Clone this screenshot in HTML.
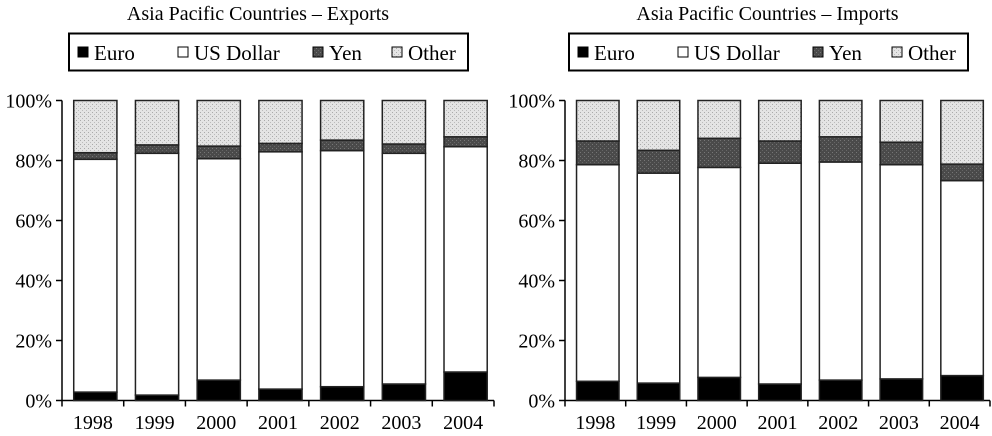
<!DOCTYPE html>
<html><head><meta charset="utf-8"><style>
body{margin:0;background:#fff;}
svg{display:block;font-family:"Liberation Serif",serif;}
</style></head><body>
<svg id="c" width="992" height="436" viewBox="0 0 992 436" xmlns="http://www.w3.org/2000/svg">
<defs>
<pattern id="pOther" width="4" height="4" patternUnits="userSpaceOnUse"><rect width="4" height="4" fill="#e4e4e4"/><rect width="1" height="1" fill="#aaa"/><rect x="2" y="2" width="1" height="1" fill="#bbb"/></pattern>
<pattern id="pYen" width="4" height="4" patternUnits="userSpaceOnUse"><rect width="4" height="4" fill="#4a4a4a"/><rect width="1" height="1" fill="#777"/><rect x="2" y="2" width="1" height="1" fill="#666"/></pattern>
</defs>
</svg>
<script>
const years = ["1998","1999","2000","2001","2002","2003","2004"];
const yTicks = [0,20,40,60,80,100];
const expEuro = [2.8,1.8,6.8,3.8,4.6,5.5,9.5];
const expUsd = [77.6,80.6,73.8,79.1,78.7,76.9,75.1];
const expYen = [2.2,2.8,4.2,2.8,3.5,3.1,3.3];
const expOther = [17.4,14.8,15.2,14.3,13.2,14.5,12.1];
const impEuro = [6.4,5.8,7.7,5.5,6.8,7.2,8.3];
const impUsd = [72.2,70.0,70.0,73.6,72.7,71.4,65.0];
const impYen = [7.9,7.6,9.7,7.4,8.4,7.5,5.5];
const impOther = [13.5,16.6,12.6,13.5,12.1,13.9,21.2];

const svg = document.getElementById('c');
const NS = 'http://www.w3.org/2000/svg';
function mk(tag, attrs, parent){const e=document.createElementNS(NS,tag);for(const k in attrs)e.setAttribute(k,attrs[k]);(parent||svg).appendChild(e);return e;}

function drawChart(key, title, x0, x1, series, legendX){
  const g = mk('g',{});
  
  
  const yTop=100.5, yBot=400.5;
  const yScale = v => yBot - (v/100)*(yBot-yTop);
  const bw = (x1-x0)/years.length;
  const xBand = i => x0 + i*bw;
  const t = mk('text',{x:(x0+x1)/2+ (key==='exports'?-20:-10), y:20,'text-anchor':'middle','font-size':20,fill:'#000'},g);
  t.textContent = title;
  
  
  // legend
  const lg = mk('g',{},g);
  
  
  mk('rect',{x:legendX,y:33.5,width:399,height:37,fill:'#fff',stroke:'#000','stroke-width':2},lg);
  const names=['Euro','US Dollar','Yen','Other'];
  const fills=['#000','#fff','url(#pYen)','url(#pOther)'];
  const offs=[9,109,244,323];
  names.forEach((n,i)=>{
    const it = mk('g',{},lg);
    
    
    mk('rect',{x:legendX+offs[i],y:47,width:10,height:10,fill:fills[i],stroke:'#000','stroke-width':1},it);
    const tt = mk('text',{x:legendX+offs[i]+16,y:60,'font-size':21,fill:'#000'},it);
    tt.textContent = n;
  });
  // axes
  const ax = mk('g',{},g);
  
  
  mk('line',{x1:x0,y1:yTop,x2:x0,y2:yBot,stroke:'#000','stroke-width':1.5},ax);
  mk('line',{x1:x0,y1:yBot,x2:x1,y2:yBot,stroke:'#000','stroke-width':1.5},ax);
  yTicks.forEach(v=>{
    const y=yScale(v);
    mk('line',{x1:x0-6,y1:y,x2:x0,y2:y,stroke:'#000','stroke-width':1.5},ax);
    const l = mk('text',{x:x0-10,y:y+7,'text-anchor':'end','font-size':20,fill:'#000'},ax);
    l.textContent = v+'%';
    
    
  });
  for(let i=0;i<=years.length;i++){
    mk('line',{x1:xBand(i),y1:yBot,x2:xBand(i),y2:yBot+6,stroke:'#000','stroke-width':1.5},ax);
  }
  years.forEach((yr,i)=>{
    const l = mk('text',{x:xBand(i)+bw/2,y:429,'text-anchor':'middle','font-size':20,fill:'#000'},ax);
    l.textContent = yr;
    
    
  });
  // bars
  const segNames=['euro','usd','yen','other'];
  years.forEach((yr,i)=>{
    const bg = mk('g',{},g);
    
    
    let cum=0;
    series.forEach((arr,s)=>{
      const v=arr[i];
      const yA=yScale(cum+v), yB=yScale(cum);
      const r = mk('rect',{x:xBand(i)+bw*0.19,y:yA,width:bw*0.7,height:yB-yA,fill:fills[s],stroke:'#222','stroke-width':1.5},bg);
      
      
      cum+=v;
    });
  });
}
drawChart('exports','Asia Pacific Countries – Exports',62,494,[expEuro,expUsd,expYen,expOther],69);
drawChart('imports','Asia Pacific Countries – Imports',565,990,[impEuro,impUsd,impYen,impOther],569);
</script>
</body></html>
